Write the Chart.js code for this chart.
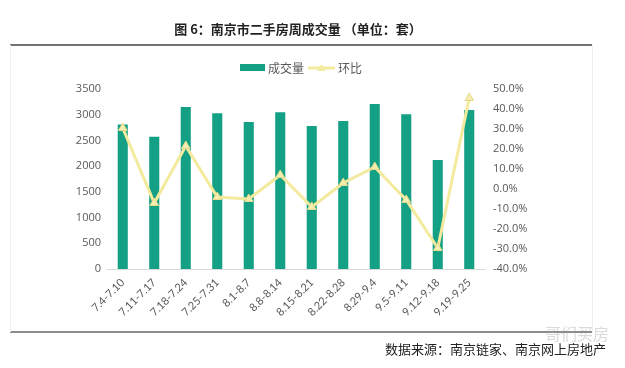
<!DOCTYPE html>
<html>
<head>
<meta charset="utf-8">
<script src="https://cdn.jsdelivr.net/npm/chart.js@4"></script>
<style>
  body { margin: 0; background: #fff; }
  #wrap { width: 625px; height: 368px; position: relative; }
</style>
</head>
<body>
<div id="wrap"><canvas id="canvas"></canvas></div>
<script>
const weeks = ['7.4-7.10', '7.11-7.17', '7.18-7.24', '7.25-7.31', '8.1-8.7', '8.8-8.14',
               '8.15-8.21', '8.22-8.28', '8.29-9.4', '9.5-9.11', '9.12-9.18', '9.19-9.25'];
const volume = [2810, 2570, 3150, 3030, 2860, 3050, 2780, 2880, 3210, 3010, 2120, 3090];
const changePct = [30.5, -7, 21.5, -4, -5, 7, -9, 3, 11, -5.5, -29.5, 45.5];

const green = '#14A084';
const yellow = '#F3EA9E';
const cjk = '"Noto Sans CJK SC", "Noto Sans", sans-serif';

const decor = {
    id: 'decor',
    afterDraw(chart) {
        const c = chart.ctx;
        c.save();
        // title
        c.fillStyle = '#222';
        c.font = 'bold 13px ' + cjk;
        c.textAlign = 'center';
        c.textBaseline = 'middle';
        c.fillText('图 6：南京市二手房周成交量 （单位：套）', 298, 29);
        // rules
        c.strokeStyle = '#444';
        c.lineWidth = 1.5;
        c.beginPath(); c.moveTo(10, 45); c.lineTo(592, 45); c.stroke();
        c.strokeStyle = '#666';
        c.beginPath(); c.moveTo(10, 332); c.lineTo(592, 332); c.stroke();
        c.strokeStyle = '#eee';
        c.lineWidth = 1;
        c.beginPath(); c.moveTo(10.5, 45); c.lineTo(10.5, 332); c.stroke();
        c.beginPath(); c.moveTo(592.5, 45); c.lineTo(592.5, 332); c.stroke();
        // legend
        c.fillStyle = green;
        c.fillRect(240, 64, 25, 7);
        c.fillStyle = '#595959';
        c.font = '12px ' + cjk;
        c.textAlign = 'left';
        c.fillText('成交量', 268, 68);
        c.strokeStyle = yellow;
        c.lineWidth = 3;
        c.beginPath(); c.moveTo(308, 68); c.lineTo(335, 68); c.stroke();
        c.fillStyle = yellow;
        c.beginPath(); c.moveTo(321.5, 64); c.lineTo(325.5, 71); c.lineTo(317.5, 71); c.closePath(); c.fill();
        c.fillStyle = '#595959';
        c.fillText('环比', 338, 68);
        // source
        c.fillStyle = '#222';
        c.font = '13px ' + cjk;
        c.fillText('数据来源：南京链家、南京网上房地产', 385, 349);
        // watermark
        c.fillStyle = 'rgba(150,150,150,0.35)';
        c.font = '16px ' + cjk;
        c.fillText('哥们买房', 545, 334);
        c.restore();
    }
};

new Chart(document.getElementById('canvas').getContext('2d'), {
    data: {
        labels: weeks,
        datasets: [{
            type: 'line',
            label: '环比',
            data: changePct,
            yAxisID: 'y1',
            borderColor: yellow,
            backgroundColor: yellow,
            borderWidth: 3,
            pointStyle: 'triangle',
            pointRadius: 5,
            pointBackgroundColor: '#F6EEB0',
            pointBorderColor: '#E3D98C',
            pointBorderWidth: 1,
            tension: 0,
            order: 0
        }, {
            type: 'bar',
            label: '成交量',
            data: volume,
            yAxisID: 'y',
            backgroundColor: green,
            borderWidth: 0,
            barPercentage: 0.64,
            categoryPercentage: 0.5,
            order: 1
        }]
    },
    options: {
        responsive: true,
        maintainAspectRatio: false,
        animation: false,
        layout: { padding: { top: 89, left: 0, right: 0, bottom: 0 } },
        plugins: {
            legend: { display: false },
            title: { display: false },
            tooltip: { enabled: false }
        },
        scales: {
            x: {
                grid: { display: false, drawTicks: false },
                border: { color: '#D9D9D9', width: 1 },
                ticks: {
                    color: '#595959',
                    font: { size: 11, family: 'Lato, sans-serif' },
                    minRotation: 45,
                    maxRotation: 45,
                    padding: 7,
                    autoSkip: false
                },
                afterFit(scale) { scale.height = 99; }
            },
            y: {
                position: 'left',
                min: 0,
                max: 3500,
                ticks: {
                    stepSize: 500,
                    color: '#595959',
                    font: { size: 11, family: '"Open Sans", sans-serif' },
                    padding: 6,
                    callback: v => String(v)
                },
                grid: { display: false, drawTicks: false },
                border: { display: false },
                afterFit(scale) { scale.width = 107; }
            },
            y1: {
                position: 'right',
                min: -40,
                max: 50,
                ticks: {
                    stepSize: 10,
                    color: '#595959',
                    font: { size: 11, family: '"Open Sans", sans-serif' },
                    padding: 8,
                    callback: v => v.toFixed(1) + '%'
                },
                grid: { display: false, drawTicks: false },
                border: { display: false },
                afterFit(scale) { scale.width = 140; }
            }
        }
    },
    plugins: [decor]
});
</script>
</body>
</html>
